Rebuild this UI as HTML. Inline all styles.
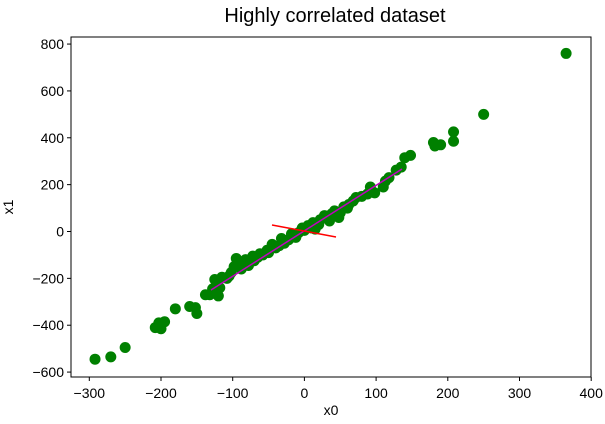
<!DOCTYPE html>
<html><head><style>body{margin:0;background:#fff}</style></head><body>
<svg width="605" height="419" xmlns="http://www.w3.org/2000/svg" font-family="Liberation Sans, DejaVu Sans, sans-serif">
<rect width="605" height="419" fill="#fff"/>
<text x="335" y="22" font-size="20" text-anchor="middle">Highly correlated dataset</text>
<g id="pts" fill="#008000"></g>
<g id="ln"><line x1="211" y1="290" x2="402" y2="169" stroke="#c000c0" stroke-width="1.5"/>
<line x1="272" y1="225" x2="336" y2="237" stroke="red" stroke-width="1.5"/></g>
<rect x="71" y="37" width="520" height="340" fill="none" stroke="#000" stroke-width="1"/>
<g font-size="14" text-anchor="middle" id="xt"></g>
<g font-size="14" text-anchor="end" id="yt"></g>
<text x="331" y="415" font-size="14" text-anchor="middle">x0</text>
<text x="13" y="207" font-size="14" text-anchor="middle" transform="rotate(-90 13 207)">x1</text>
</svg>
<script>
var ns="http://www.w3.org/2000/svg";
function X(v){return 304.4+v*0.717}function Y(v){return 231.5-v*0.2343}
var d=[[365,760],[250,500],[208,425],[208,385],[190,370],[180,380],[182,365],[148,325],[140,315],[135,275],[128,262],[118,230],[113,215],[110,190],[98,165],[92,190],[88,160],[72,145],[68,130],[62,115],[55,105],[50,80],[48,60],[42,88],[38,75],[32,55],[28,68],[22,50],[20,30],[12,38],[10,15],[5,25],[0,5],[-3,15],[-8,-5],[-12,-25],[-18,-10],[-22,-35],[-28,-50],[-32,-30],[-40,-70],[-45,-55],[-52,-80],[-58,-100],[-62,-95],[-70,-125],[-72,-105],[-78,-145],[-82,-120],[-88,-160],[-92,-130],[-95,-115],[-98,-150],[-102,-175],[-108,-200],[-115,-195],[-122,-225],[-125,-205],[-128,-245],[-132,-270],[-120,-275],[-118,-240],[-138,-270],[-150,-350],[-152,-325],[-160,-320],[-180,-330],[-195,-385],[-200,-415],[-203,-390],[-208,-410],[-250,-495],[-270,-535],[-292,-545],[-85,-140],[-65,-110],[-105,-190],[-50,-90],[15,10],[60,100],[80,150],[-15,-20],[35,45],[-35,-60]];
var g=document.getElementById("pts");
d.forEach(function(p){var c=document.createElementNS(ns,"circle");c.setAttribute("cx",X(p[0]));c.setAttribute("cy",Y(p[1]));c.setAttribute("r",5.5);g.appendChild(c);});
var xt=document.getElementById("xt"),yt=document.getElementById("yt"),s=document.querySelector("svg");
for(var v=-300;v<=400;v+=100){var x=X(v);var l=document.createElementNS(ns,"line");l.setAttribute("x1",x);l.setAttribute("x2",x);l.setAttribute("y1",377);l.setAttribute("y2",381);l.setAttribute("stroke","#000");s.appendChild(l);var t=document.createElementNS(ns,"text");t.setAttribute("x",x);t.setAttribute("y",398);t.textContent=(v<0?"\u2212"+(-v):v);xt.appendChild(t);}
for(var v=-600;v<=800;v+=200){var y=Y(v);var l=document.createElementNS(ns,"line");l.setAttribute("x1",67);l.setAttribute("x2",71);l.setAttribute("y1",y);l.setAttribute("y2",y);l.setAttribute("stroke","#000");s.appendChild(l);var t=document.createElementNS(ns,"text");t.setAttribute("x",64);t.setAttribute("y",y+5);t.textContent=(v<0?"\u2212"+(-v):v);yt.appendChild(t);}
</script>
</body></html>
